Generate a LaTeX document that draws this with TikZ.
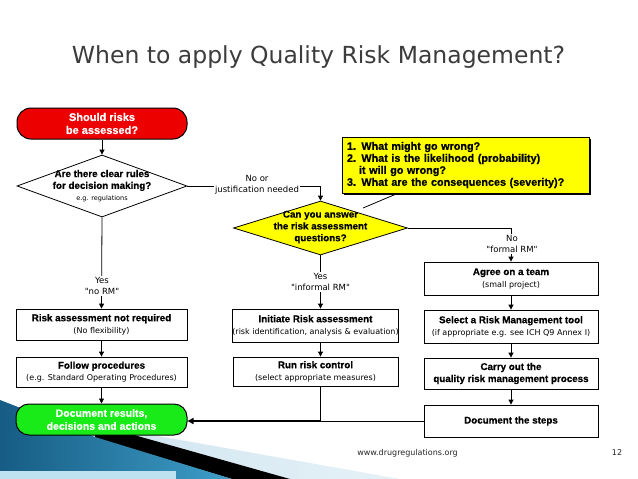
\documentclass[tikz,border=0pt]{standalone}
\usepackage{fontspec}
\setmainfont{Liberation Sans}[BoldFeatures={FakeBold=0.6}]
\newfontfamily\dvsans{DejaVu Sans}
\usetikzlibrary{arrows.meta,shapes.geometric,shadows}

\definecolor{qrmred}{RGB}{236,0,0}
\definecolor{qrmgreen}{RGB}{25,235,25}
\definecolor{qrmyellow}{RGB}{255,255,0}
\definecolor{titlegray}{RGB}{60,60,60}
\definecolor{decolight}{RGB}{200,225,238}
\definecolor{decodark}{RGB}{22,92,132}
\definecolor{decomid}{RGB}{62,158,200}
\definecolor{decostrip}{RGB}{190,226,240}

\newcommand\subtx[1]{{\dvsans\mdseries\fontsize{8}{11}\selectfont #1}}

\begin{document}
\begin{tikzpicture}[x=1pt,y=-1pt,
  flowbox/.style={draw=black, line width=0.8pt, fill=white, inner sep=0pt, align=center,
    font=\bfseries\fontsize{9.8}{12}\selectfont},
  leftbox/.style={flowbox, minimum width=171pt},
  midbox/.style={flowbox, minimum width=165pt},
  rightbox/.style={flowbox, minimum width=174pt},
  decision/.style={diamond, draw=black, line width=0.8pt, inner sep=0pt},
  dtext/.style={align=center, inner sep=0pt, font=\bfseries\fontsize{9.8}{11.8}\selectfont},
  flowlabel/.style={fill=white, inner sep=1pt, align=center, font=\dvsans\fontsize{8.5}{11}\selectfont},
  conn/.style={line width=0.8pt, -{Triangle[width=5pt,length=5pt]}},
  plain/.style={line width=0.8pt},
]
\useasboundingbox (0,0) rectangle (638,479);
\fill[white] (0,0) rectangle (638,479);

% slide decoration bottom left
\shade[left color=decolight, right color=decolight!45] (0,408) -- (400,479) -- (0,479) -- cycle;
\fill[black] (95,424) -- (290,479) -- (232,479) -- (95,438) -- cycle;
\shade[left color=decodark, right color=decomid] (0,400) -- (95,437) -- (232,479) -- (0,479) -- cycle;
\fill[decostrip] (0,471) rectangle (176,479);

% title and footer
\node[anchor=base, font=\dvsans\fontsize{23.5}{28}\selectfont, text=titlegray] (title) at (318.5,63)
  {When to apply Quality Risk Management?};
\node[anchor=base, font=\dvsans\fontsize{8}{10}\selectfont, text=black!85] (url) at (407.5,455)
  {www.drugregulations.org};
\node[anchor=base, font=\dvsans\fontsize{8}{10}\selectfont, text=black!85] (pg) at (617,455) {12};

% nodes
\node[fill=qrmred, draw=black, line width=1pt, rounded corners=14pt, minimum width=170pt,
  minimum height=31pt, inner sep=0pt, align=center, text=white,
  font=\bfseries\fontsize{11}{13}\selectfont] (should) at (102,123.5) {Should risks\\be assessed?};

\node[decision, fill=white, minimum width=170pt, minimum height=62pt] (d1) at (102,186) {};
\node[dtext] (d1t) at (102,186) {Are there clear rules\\for decision making?\\
  {\dvsans\mdseries\fontsize{6.5}{9}\selectfont e.g. regulations}};

\node[decision, fill=qrmyellow, minimum width=174pt, minimum height=54pt] (d2) at (320.5,228) {};
\node[dtext] (d2t) at (320.5,227) {Can you answer\\the risk assessment\\questions?};

\node[draw=black, line width=0.8pt, fill=qrmyellow,
  drop shadow={shadow xshift=2pt, shadow yshift=-2pt, fill=black, opacity=1},
  minimum width=247pt, minimum height=56pt, text width=237pt, inner xsep=5pt, inner ysep=2pt,
  align=left, font=\bfseries\fontsize{10.8}{12}\selectfont] (note) at (465.5,165)
  {1. What might go wrong?\\2. What is the likelihood (probability)\\\hspace*{12pt}it will go wrong?\\3. What are the consequences (severity)?};

\node[leftbox, minimum height=31pt] (rna) at (101.5,324.5)
  {Risk assessment not required\\\subtx{(No flexibility)}};
\node[leftbox, minimum height=30pt] (follow) at (101.5,372)
  {Follow procedures\\\subtx{(e.g. Standard Operating Procedures)}};
\node[fill=qrmgreen, draw=black, line width=1pt, rounded corners=13pt, minimum width=171pt,
  minimum height=31pt, inner sep=0pt, align=center, text=white,
  font=\bfseries\fontsize{10.5}{13}\selectfont] (green) at (101.5,419.5)
  {Document results,\\decisions and actions};

\node[midbox, minimum height=33pt] (init) at (315.5,325.5)
  {Initiate Risk assessment\\\subtx{(risk identification, analysis \& evaluation)}};
\node[midbox, minimum height=29pt] (run) at (315.5,371.5)
  {Run risk control\\\subtx{(select appropriate measures)}};

\node[rightbox, minimum height=33pt] (agree) at (511,278.5)
  {Agree on a team\\\subtx{(small project)}};
\node[rightbox, minimum height=33pt] (select) at (511,326.5)
  {Select a Risk Management tool\\\subtx{(if appropriate e.g. see ICH Q9 Annex I)}};
\node[rightbox, minimum height=31pt] (carry) at (511,373.5)
  {Carry out the\\quality risk management process};
\node[rightbox, minimum height=32pt] (docsteps) at (511,421)
  {Document the steps};

% connectors
\draw[conn] (should.south) -- (d1.north);
\draw[conn] (d1.south) -- (rna.north);
\draw[conn] (rna.south) -- (follow.north);
\draw[conn] (follow.south) -- (green.north);
\draw[conn] (d1.east) -| (d2.north);
\draw[conn] (d2.south) -- (d2.south |- init.north);
\draw[conn] (d2.south |- init.south) -- (d2.south |- run.north);
\draw[conn] (d2.east) -| (agree.north);
\draw[conn] (agree.south) -- (select.north);
\draw[conn] (select.south) -- (carry.north);
\draw[conn] (carry.south) -- (docsteps.north);
\coordinate (jn) at (d2.south |- docsteps.west);
\draw[plain] (d2.south |- run.south) -- (jn);
\draw[plain] (docsteps.west) -- (jn);
\draw[line width=1.6pt, -{Triangle[width=6pt,length=6pt]}] (jn) -- (jn -| green.east);
\coordinate (lead) at (363,208);
\draw[plain] (lead) -- ([xshift=56pt]note.south west);

% connector labels
\node[flowlabel] (lab1) at (102,286) {Yes\\"no RM"};
\node[flowlabel] (lab2) at (257,185) {No or\\justification needed};
\node[flowlabel] (lab3) at (320.5,282) {Yes\\"informal RM"};
\node[flowlabel] (lab4) at (512,244) {No\\"formal RM"};
\end{tikzpicture}
\end{document}
